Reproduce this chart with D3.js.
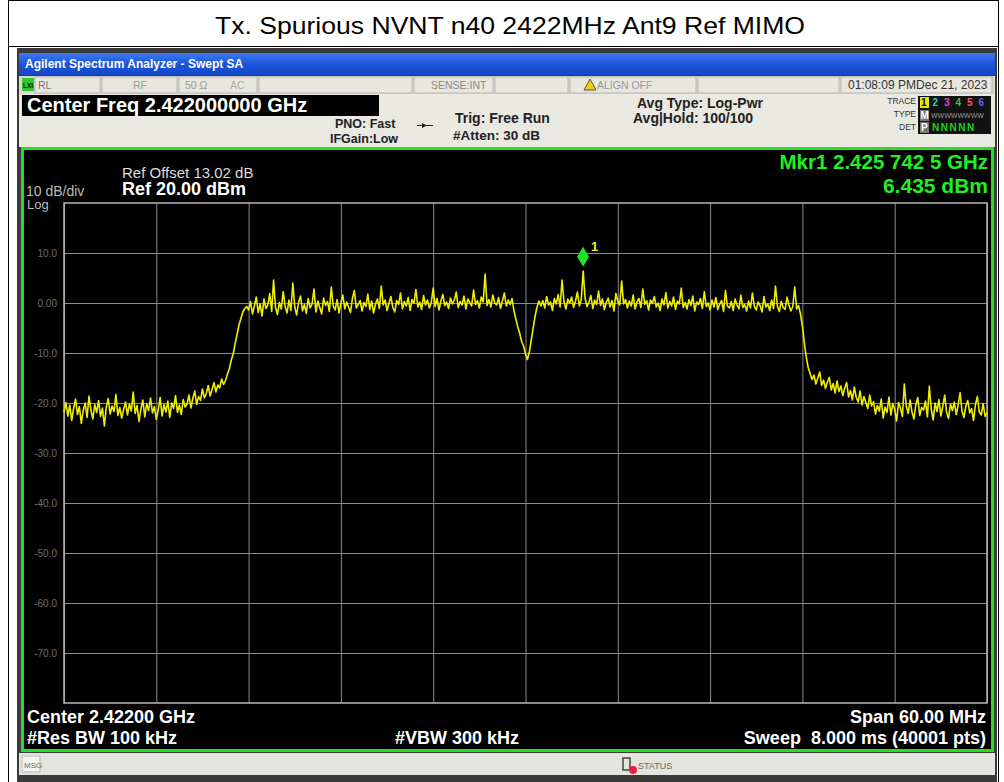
<!DOCTYPE html>
<html>
<head>
<meta charset="utf-8">
<script src="https://cdn.jsdelivr.net/npm/d3@7"></script>
<style>
body { margin: 0; background: #fff; }
svg { display: block; font-family: "Liberation Sans", Arial, sans-serif; }
</style>
</head>
<body>
<script>
const title = "Tx. Spurious NVNT n40 2422MHz Ant9 Ref MIMO";
const startFreq = 2392;   // MHz
const stopFreq = 2452;
const stepFreq = 0.125;
const refLevel = 20;
const bottomLevel = -80;
const yTicks = [10, 0, -10, -20, -30, -40, -50, -60, -70];
const yTickLabels = ["10.0", "0.00", "-10.0", "-20.0", "-30.0", "-40.0", "-50.0", "-60.0", "-70.0"];
const markerFreq = 2425.7425;
const markerDbm = 6.435;

// trace, one value every 0.125 MHz
const traceDbm = [
  // lower skirt
  -21.8, -19.9, -22.6, -20.4, -23.5, -21.1, -19.2, -22.3, -20.7, -24.1, -21.5, -20.0, -22.9, -18.6, -21.4, -23.2,
  -20.3, -21.9, -19.5, -22.7, -21.0, -24.6, -20.8, -19.1, -22.2, -20.6, -21.7, -18.3, -22.5, -20.9, -23.0, -21.3,
  -19.8, -22.4, -20.2, -21.6, -17.8, -22.1, -20.5, -23.7, -21.2, -19.4, -22.8, -20.1, -21.5, -19.0, -22.0, -20.7,
  -23.3, -21.4, -18.9, -22.6, -20.3, -21.8, -19.6, -22.9, -20.0, -21.1, -18.5, -21.9, -20.4, -22.3, -19.3, -20.8,
  -20.2, -18.4, -21.0, -19.1, -17.6, -20.3, -18.7, -19.5, -17.2, -19.0, -18.1, -16.5, -18.6, -17.3, -15.9, -17.8,
  -16.4, -17.0, -15.2, -16.3,
  // rising edge
  -15.5, -14.2, -13.1, -11.4, -10.2, -8.1, -6.3, -4.4, -3.1, -1.8, -1.1, -0.7,
  // left half of channel
  -1.4, 0.3, -2.2, -0.6, 1.2, -1.9, -0.2, -2.6, 0.8, -1.1, -0.4, 1.9, -1.7, 4.6, -0.9,
  -2.3, 0.1, -1.2, 2.3, -0.7, -2.0, 0.6, -1.5, 4.0, -0.8, -2.4, 0.2, 1.4, -1.6, -0.3,
  -2.1, 0.9, -1.0, -0.2, 2.8, -1.8, 0.4, -0.9, -2.2, 1.0, -0.5, 0.3, -1.7, 3.2, -0.6,
  -1.4, 0.7, -2.0, -0.1, 1.6, -1.2, 0.2, -0.8, -1.9, 0.9, 2.5, -1.0, -0.3, 0.5, -1.6,
  0.1, -0.7, 1.8, -1.3, 0.4, -2.0, -0.2, 0.8, -1.1, 3.4, -0.4, 0.6, -1.5, 0.0, 1.3,
  -0.9, -1.8, 0.5, -0.3, 2.0, -1.2, 0.3, -0.6, 1.1, -1.5, 0.7, -0.1, 2.7, -0.8, 0.2,
  -1.3, 1.5, -0.4, 0.6, -1.0, 0.1, 3.0, -0.7, 0.9, -1.4, 0.4, 1.7, -0.5, 0.2, -1.1,
  1.0, -0.2, 0.6, 2.2, -0.9, 0.3, -0.4, 1.4, -1.2, 0.8, 0.1, -0.6, 2.6, -0.3, 0.5,
  -1.0, 1.2, 0.2, 5.8, -0.5, 0.7, -0.8, 1.6, 0.0, -0.4, 1.1, -1.1, 0.4, 2.0, -0.6,
  0.6, -0.3, 0.9,
  // centre notch
  -1.6, -3.2, -4.8, -6.1, -7.7, -8.6, -10.2, -11.3, -9.8, -7.4, -5.0, -2.6, -0.8, 0.4, -0.6,
  // right half of channel
  0.5, -1.0, 1.3, -0.4, 0.2, -1.5, 0.9, -0.2, 1.7, -0.8, 4.6, 0.3, -1.2, 0.8, -0.1,
  1.2, -0.9, 0.4, 2.2, -0.6, 0.7, 6.4, 0.9, -0.7, 0.2, 1.5, -1.1, 0.6, -0.3, 2.4,
  -0.5, 0.8, -1.3, 0.1, 1.0, -0.8, 0.5, -1.6, 1.9, 0.3, -0.4, 4.4, -0.2, 0.7, -1.0,
  0.4, -0.6, 1.6, -1.2, 0.2, 0.9, -0.9, 2.8, -0.3, 0.5, -1.4, 0.6, -0.1, 1.3, -0.8,
  0.0, -1.5, 0.8, -0.4, 2.1, -1.0, 0.3, -0.6, 1.2, -1.3, 0.4, -0.2, 3.0, -0.9, 0.1,
  -1.2, 0.7, -0.5, 1.4, -1.6, 0.2, -0.3, 0.9, -1.1, 2.3, -0.7, 0.0, -1.4, 0.6, -0.8,
  1.1, -1.3, -0.2, 0.5, -1.7, 2.5, -0.6, -1.0, 0.3, -1.5, 0.8, -0.4, -1.2, 1.6, -0.9,
  -0.3, -1.6, 0.4, -1.0, 2.0, -0.7, -1.4, 0.2, -0.5, -1.8, 1.3, -0.8, -0.2, -1.5, 0.6,
  -1.1, 3.4, -0.6, -1.7, 0.3, -0.9, -1.3, 1.2, -0.4, -1.6, -0.7, 3.2, -1.2, -0.5,
  // falling edge
  -2.2, -4.6, -7.9, -10.8, -12.9, -14.1, -15.3, -14.4,
  -16.2, -15.0, -13.8, -16.5, -15.4, -17.1, -15.8, -14.9, -17.4, -16.1, -18.0, -15.6, -17.7, -16.6, -18.5,
  -17.0, -15.9, -18.8, -17.5, -19.4, -16.8, -18.9, -19.8, -17.6, -20.4, -18.7, -19.9, -21.1, -18.4, -20.6,
  // upper skirt
  -19.7, -22.2, -20.5, -21.6, -19.2, -23.0, -20.8, -21.9, -18.8, -22.4, -20.1, -21.3, -23.6, -19.9, -21.0,
  -22.7, -16.2, -20.6, -22.1, -19.4, -21.8, -23.2, -20.3, -18.9, -22.5, -20.9, -21.4, -19.6, -22.8, -16.6,
  -21.2, -23.4, -20.0, -21.7, -19.3, -22.6, -20.7, -18.4, -21.9, -23.1, -20.2, -21.5, -19.8, -22.3, -20.4,
  -17.9, -21.6, -22.9, -20.6, -19.5, -22.0, -21.1, -23.5, -20.3, -18.7, -21.8, -22.4, -20.1, -22.7, -21.9
];
const traceFreq = traceDbm.map((d, i) => startFreq + i * stepFreq);

const W = 1004, H = 782;
const svg = d3.select("body").append("svg").attr("width", W).attr("height", H);

// report table cell
svg.append("rect").attr("width", W).attr("height", H).attr("fill", "#fff");
svg.append("line").attr("x1", 8).attr("x2", 998).attr("y1", 0.5).attr("y2", 0.5).attr("stroke", "#000");
svg.append("line").attr("x1", 8).attr("x2", 998).attr("y1", 46.5).attr("y2", 46.5).attr("stroke", "#000");
svg.append("line").attr("x1", 8.5).attr("x2", 8.5).attr("y1", 0).attr("y2", H).attr("stroke", "#000");
svg.append("line").attr("x1", 998.5).attr("x2", 998.5).attr("y1", 0).attr("y2", H).attr("stroke", "#000");
svg.append("text").attr("x", 510).attr("y", 34).attr("text-anchor", "middle")
  .attr("font-size", 24).attr("textLength", 590).attr("lengthAdjust", "spacingAndGlyphs")
  .attr("fill", "#000").text(title);

// analyzer window
svg.append("rect").attr("x", 17).attr("y", 48).attr("width", 980).attr("height", 734).attr("fill", "#3a3a3a");
const grad = svg.append("defs").append("linearGradient").attr("id", "bar").attr("x1", 0).attr("x2", 0).attr("y1", 0).attr("y2", 1);
grad.append("stop").attr("offset", 0).attr("stop-color", "#3d7cf3");
grad.append("stop").attr("offset", 0.5).attr("stop-color", "#1b55db");
grad.append("stop").attr("offset", 1).attr("stop-color", "#1548c8");
svg.append("rect").attr("x", 19).attr("y", 53).attr("width", 976).attr("height", 22).attr("fill", "url(#bar)");
svg.append("text").attr("x", 25).attr("y", 68).attr("font-size", 12).attr("font-weight", "bold")
  .attr("fill", "#fff").text("Agilent Spectrum Analyzer - Swept SA");

// status row
svg.append("rect").attr("x", 19).attr("y", 76).attr("width", 976).attr("height", 18).attr("fill", "#d9d8d0");
const cells = [[34, 101], [101, 178], [178, 258], [258, 413], [413, 494], [494, 569], [569, 697], [697, 840], [840, 993]];
svg.selectAll(".cell").data(cells).enter().append("rect")
  .attr("x", d => d[0] + 1).attr("y", 77).attr("width", d => d[1] - d[0] - 2).attr("height", 16)
  .attr("fill", "#e8e7df").attr("stroke", "#b8b8b0");
svg.append("rect").attr("x", 22).attr("y", 78).attr("width", 12).attr("height", 13).attr("fill", "#2ec82e");
svg.append("text").attr("x", 23).attr("y", 88).attr("font-size", 6.5).attr("font-weight", "bold").attr("fill", "#111").text("LXI");
const statusTexts = [["RL", 38, "#777"], ["RF", 133, "#999"], ["50 Ω", 185, "#999"], ["AC", 230, "#aaa"],
  ["SENSE:INT", 431, "#888"], ["ALIGN OFF", 597, "#999"], ["01:08:09 PMDec 21, 2023", 848, "#333"]];
svg.selectAll(".st").data(statusTexts).enter().append("text")
  .attr("x", d => d[1]).attr("y", 89).attr("font-size", d => d[1] === 848 ? 12 : 10.5)
  .attr("fill", d => d[2]).text(d => d[0]);
svg.append("path").attr("d", "M590,79 L596,90 L584,90 Z").attr("fill", "#f0d000").attr("stroke", "#333").attr("stroke-width", 0.8);

// info area
svg.append("rect").attr("x", 19).attr("y", 94).attr("width", 976).attr("height", 53).attr("fill", "#e9e8e1");
svg.append("rect").attr("x", 22).attr("y", 95).attr("width", 357).attr("height", 21).attr("fill", "#000");
svg.append("text").attr("x", 27).attr("y", 112).attr("font-size", 20).attr("font-weight", "bold")
  .attr("fill", "#fff").text("Center Freq 2.422000000 GHz");
const infoTexts = [["PNO: Fast", 335, 128, 12.5], ["IFGain:Low", 330, 143, 12.5], ["Trig: Free Run", 455, 123, 14],
  ["#Atten: 30 dB", 453, 140, 13.5], ["Avg Type: Log-Pwr", 637, 108, 14], ["Avg|Hold: 100/100", 633, 123, 14]];
svg.selectAll(".info").data(infoTexts).enter().append("text")
  .attr("x", d => d[1]).attr("y", d => d[2]).attr("font-size", d => d[3]).attr("font-weight", "bold")
  .attr("fill", "#222").text(d => d[0]);
svg.append("line").attr("x1", 417).attr("x2", 433).attr("y1", 125.5).attr("y2", 125.5).attr("stroke", "#222");
svg.append("path").attr("d", "M422,123 L427,125.5 L422,128 Z").attr("fill", "#222");

// trace / type / det block
svg.append("rect").attr("x", 918).attr("y", 96).attr("width", 73).attr("height", 38).attr("fill", "#111");
[["TRACE", 104], ["TYPE", 117], ["DET", 130]].forEach(d => {
  svg.append("text").attr("x", 916).attr("y", d[1]).attr("text-anchor", "end").attr("font-size", 8.5)
    .attr("fill", "#333").text(d[0]);
});
const traceNums = [["1", "#f2f200"], ["2", "#22d0d0"], ["3", "#e040e0"], ["4", "#40c040"], ["5", "#ff5070"], ["6", "#6060ff"]];
traceNums.forEach((d, i) => {
  if (i === 0) svg.append("rect").attr("x", 920).attr("y", 97).attr("width", 9).attr("height", 11).attr("fill", "#e8e800");
  svg.append("text").attr("x", 921 + i * 11.5).attr("y", 106).attr("font-size", 10).attr("font-weight", "bold")
    .attr("fill", i === 0 ? "#000" : d[1]).text(d[0]);
});
svg.append("rect").attr("x", 920).attr("y", 110).attr("width", 9).attr("height", 11).attr("fill", "#777");
svg.append("text").attr("x", 920.5).attr("y", 119).attr("font-size", 10).attr("font-weight", "bold").attr("fill", "#fff").text("M");
svg.append("text").attr("x", 931).attr("y", 118).attr("font-size", 7).attr("fill", "#999").text("WWWWWWWW");
svg.append("rect").attr("x", 920).attr("y", 122).attr("width", 9).attr("height", 11).attr("fill", "#777");
svg.append("text").attr("x", 921).attr("y", 131).attr("font-size", 10).attr("font-weight", "bold").attr("fill", "#fff").text("P");
svg.append("text").attr("x", 932).attr("y", 131).attr("font-size", 10).attr("font-weight", "bold")
  .attr("fill", "#1ed01e").attr("letter-spacing", 1.5).text("NNNNN");

// screen
svg.append("rect").attr("x", 22.5).attr("y", 148.5).attr("width", 970).attr("height", 602)
  .attr("fill", "#000").attr("stroke", "#22e022").attr("stroke-width", 3);

const x = d3.scaleLinear().domain([startFreq, stopFreq]).range([64, 987]);
const y = d3.scaleLinear().domain([bottomLevel, refLevel]).range([703, 203]);

const gx = svg.append("g").attr("transform", "translate(0,703)")
  .call(d3.axisBottom(x).tickValues(d3.range(startFreq, stopFreq + 0.1, 6)).tickSize(-500).tickFormat(""));
const gy = svg.append("g").attr("transform", "translate(64,0)")
  .call(d3.axisLeft(y).tickValues(yTicks).tickSize(-923).tickFormat(""));
[gx, gy].forEach(g => {
  g.select(".domain").remove();
  g.selectAll(".tick line").attr("stroke", "#8a8a8a").attr("stroke-width", 1);
});
svg.append("rect").attr("x", 64).attr("y", 203).attr("width", 923).attr("height", 500)
  .attr("fill", "none").attr("stroke", "#b8b8b8").attr("stroke-width", 1.5);

svg.selectAll(".ylab").data(yTicks).enter().append("text")
  .attr("x", 57).attr("y", d => y(d) + 3.5).attr("text-anchor", "end")
  .attr("font-size", 10).attr("fill", "#6e6e6e").text((d, i) => yTickLabels[i]);

// trace
const line = d3.line().x((d, i) => x(traceFreq[i])).y(d => y(d));
svg.append("path").datum(traceDbm).attr("d", line)
  .attr("fill", "none").attr("stroke", "#eeee00").attr("stroke-width", 1.6).attr("stroke-linejoin", "round");

// marker
const mx = x(markerFreq), my = y(markerDbm) - 14;
svg.append("path").attr("d", `M${mx},${my - 10} L${mx + 6},${my} L${mx},${my + 10} L${mx - 6},${my} Z`)
  .attr("fill", "#22e022");
svg.append("text").attr("x", mx + 8).attr("y", my - 6).attr("font-size", 13).attr("font-weight", "bold")
  .attr("fill", "#f0f000").text("1");

// screen annotations
svg.append("text").attr("x", 122).attr("y", 178).attr("font-size", 15).attr("fill", "#ddd").text("Ref Offset 13.02 dB");
svg.append("text").attr("x", 122).attr("y", 195).attr("font-size", 18).attr("font-weight", "bold").attr("fill", "#fff").text("Ref 20.00 dBm");
svg.append("text").attr("x", 26).attr("y", 196).attr("font-size", 14).attr("fill", "#bbb").text("10 dB/div");
svg.append("text").attr("x", 27).attr("y", 209).attr("font-size", 13).attr("fill", "#bbb").text("Log");
svg.append("text").attr("x", 988).attr("y", 169).attr("text-anchor", "end").attr("font-size", 20.5)
  .attr("font-weight", "bold").attr("fill", "#22ee22").text("Mkr1 2.425 742 5 GHz");
svg.append("text").attr("x", 988).attr("y", 193).attr("text-anchor", "end").attr("font-size", 21)
  .attr("font-weight", "bold").attr("fill", "#22ee22").text("6.435 dBm");

const bottomTexts = [["Center 2.42200 GHz", 27, 723, "start"], ["#Res BW 100 kHz", 27, 744, "start"],
  ["#VBW 300 kHz", 395, 744, "start"], ["Span 60.00 MHz", 986, 723, "end"],
  ["Sweep  8.000 ms (40001 pts)", 986, 744, "end"]];
svg.selectAll(".bt").data(bottomTexts).enter().append("text")
  .attr("x", d => d[1]).attr("y", d => d[2]).attr("text-anchor", d => d[3])
  .attr("font-size", 18).attr("font-weight", "bold").attr("fill", "#fff")
  .attr("xml:space", "preserve").style("white-space", "pre").text(d => d[0]);

// message / status bar
svg.append("rect").attr("x", 19).attr("y", 753).attr("width", 976).attr("height", 22).attr("fill", "#e4e4de");
svg.append("rect").attr("x", 22).attr("y", 756).attr("width", 18).attr("height", 16).attr("fill", "#f2f2ee").attr("stroke", "#bbb");
svg.append("text").attr("x", 24).attr("y", 768).attr("font-size", 8).attr("fill", "#666").text("MSG");
svg.append("rect").attr("x", 623).attr("y", 758).attr("width", 7).attr("height", 12).attr("fill", "none").attr("stroke", "#444").attr("stroke-width", 1.5);
svg.append("circle").attr("cx", 633).attr("cy", 770).attr("r", 4).attr("fill", "#e8204a");
svg.append("text").attr("x", 638).attr("y", 769).attr("font-size", 9).attr("fill", "#666").text("STATUS");
</script>
</body>
</html>
